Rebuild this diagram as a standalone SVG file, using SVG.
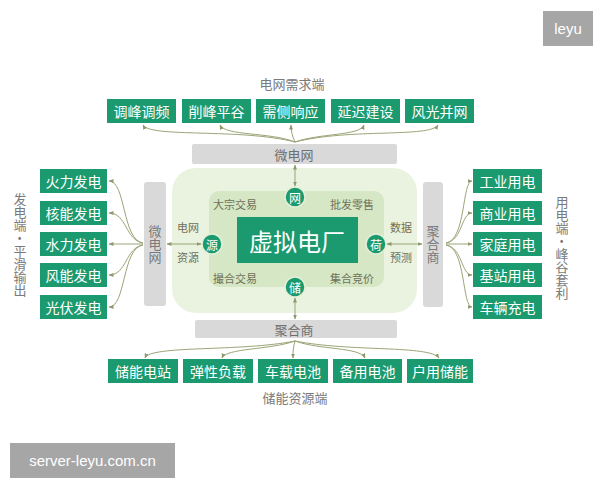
<svg xmlns="http://www.w3.org/2000/svg" width="600" height="480" viewBox="0 0 600 480">
<defs>
<marker id="ah" viewBox="0 0 10 10" refX="9" refY="5" markerWidth="5" markerHeight="5" orient="auto-start-reverse">
<path d="M0,1 L10,5 L0,9 z" fill="#8f9a6c"/>
</marker>
<style>
text{font-family:"Noto Sans CJK SC","Noto Sans",sans-serif;}
.box{fill:#1b9a70;}
.bt{fill:#ffffff;font-size:14px;text-anchor:middle;dominant-baseline:central;}
.bar{fill:#d9d9d9;}
.gt{fill:#6e6e6e;font-size:13px;text-anchor:middle;dominant-baseline:central;}
.lt{fill:#7a7a7a;font-size:13px;text-anchor:middle;dominant-baseline:central;}
.vt{fill:#7a7a7a;font-size:13px;text-anchor:middle;writing-mode:vertical-rl;}
.it{fill:#6f7058;font-size:11px;text-anchor:middle;dominant-baseline:central;}
.cir{fill:#1b9a70;stroke:#e3efd8;stroke-width:1.5;}
.ct{fill:#ffffff;font-size:12px;text-anchor:middle;dominant-baseline:central;}
.con{fill:none;stroke:#9aa578;stroke-width:1;}
</style>
</defs>
<rect width="600" height="480" fill="#ffffff"/>

<!-- core -->
<g id="vpp-area">
<rect x="172" y="168" width="245" height="145" rx="24" fill="#eaf3e0"/>
<rect x="209" y="191" width="175" height="96" rx="10" fill="#d5e7c4"/>
<text class="it" x="235" y="204">大宗交易</text>
<text class="it" x="352" y="204">批发零售</text>
<text class="it" x="235" y="278">撮合交易</text>
<text class="it" x="352" y="278">集合竞价</text>
<text class="it" x="188" y="227">电网</text>
<text class="it" x="188" y="257">资源</text>
<text class="it" x="401" y="227">数据</text>
<text class="it" x="401" y="257">预测</text>
</g>
<g id="vpp">
<rect class="box" x="237" y="217" width="121" height="46"/>
<text x="297" y="240" fill="#ffffff" font-size="24" text-anchor="middle" dominant-baseline="central">虚拟电厂</text>
</g>
<g id="n-wang"><circle class="cir" cx="295" cy="197" r="10"/><text class="ct" x="295" y="197">网</text></g>
<g id="n-chu"><circle class="cir" cx="295" cy="287" r="10"/><text class="ct" x="295" y="287">储</text></g>
<g id="n-yuan"><circle class="cir" cx="212" cy="244" r="10"/><text class="ct" x="212" y="244">源</text></g>
<g id="n-he"><circle class="cir" cx="376" cy="244" r="10"/><text class="ct" x="376" y="244">荷</text></g>

<!-- bars -->
<g id="bar-top"><rect class="bar" x="192" y="144" width="205" height="20" rx="2"/><text class="gt" x="294" y="154">微电网</text></g>
<g id="bar-bottom"><rect class="bar" x="195" y="320" width="202" height="18" rx="2"/><text class="gt" x="294" y="329">聚合商</text></g>
<g id="bar-left"><rect class="bar" x="144" y="182" width="22" height="124" rx="3"/>
<text class="vt" x="155" y="244">微电网</text></g>
<g id="bar-right"><rect class="bar" x="423" y="182" width="20" height="125" rx="3"/>
<text class="vt" x="433" y="244">聚合商</text></g>

<!-- top nodes -->
<text class="lt" x="292" y="83">电网需求端</text>
<g id="t1"><rect class="box" x="107" y="99" width="69" height="24"/><text class="bt" x="141.5" y="111">调峰调频</text></g>
<g id="t2"><rect class="box" x="182" y="99" width="69" height="24"/><text class="bt" x="216.5" y="111">削峰平谷</text></g>
<g id="t3"><rect class="box" x="256" y="99" width="69" height="24"/><text class="bt" x="290.5" y="111">需侧响应</text></g>
<g id="t4"><rect class="box" x="331" y="99" width="69" height="24"/><text class="bt" x="365.5" y="111">延迟建设</text></g>
<g id="t5"><rect class="box" x="405" y="99" width="69" height="24"/><text class="bt" x="439.5" y="111">风光并网</text></g>

<!-- bottom nodes -->
<g id="b1"><rect class="box" x="108" y="359" width="70" height="24"/><text class="bt" x="143" y="371">储能电站</text></g>
<g id="b2"><rect class="box" x="183" y="359" width="70" height="24"/><text class="bt" x="218" y="371">弹性负载</text></g>
<g id="b3"><rect class="box" x="258" y="359" width="70" height="24"/><text class="bt" x="293" y="371">车载电池</text></g>
<g id="b4"><rect class="box" x="333" y="359" width="69" height="24"/><text class="bt" x="367.5" y="371">备用电池</text></g>
<g id="b5"><rect class="box" x="407" y="359" width="66" height="24"/><text class="bt" x="440" y="371">户用储能</text></g>
<text class="lt" x="295" y="397">储能资源端</text>

<!-- left nodes -->
<g id="l1"><rect class="box" x="40" y="169" width="67" height="24"/><text class="bt" x="73.5" y="181">火力发电</text></g>
<g id="l2"><rect class="box" x="40" y="201" width="67" height="24"/><text class="bt" x="73.5" y="213">核能发电</text></g>
<g id="l3"><rect class="box" x="40" y="232" width="67" height="24"/><text class="bt" x="73.5" y="244">水力发电</text></g>
<g id="l4"><rect class="box" x="40" y="263" width="67" height="24"/><text class="bt" x="73.5" y="275">风能发电</text></g>
<g id="l5"><rect class="box" x="40" y="295" width="67" height="24"/><text class="bt" x="73.5" y="307">光伏发电</text></g>
<text class="vt" x="20" y="245">发电端·平滑输出</text>

<!-- right nodes -->
<g id="r1"><rect class="box" x="473" y="169" width="69" height="24"/><text class="bt" x="507.5" y="181">工业用电</text></g>
<g id="r2"><rect class="box" x="473" y="201" width="69" height="24"/><text class="bt" x="507.5" y="213">商业用电</text></g>
<g id="r3"><rect class="box" x="473" y="232" width="69" height="24"/><text class="bt" x="507.5" y="244">家庭用电</text></g>
<g id="r4"><rect class="box" x="473" y="263" width="69" height="24"/><text class="bt" x="507.5" y="275">基站用电</text></g>
<g id="r5"><rect class="box" x="473" y="295" width="69" height="24"/><text class="bt" x="507.5" y="307">车辆充电</text></g>
<text class="vt" x="562" y="248">用电端·峰谷套利</text>

<!-- connectors -->
<g id="connectors">
<path class="con" marker-end="url(#ah)" d="M295,142 C240,128 150,138 143,125"/>
<path class="con" marker-end="url(#ah)" d="M295,142 C270,132 225,136 220,125"/>
<path class="con" marker-end="url(#ah)" d="M295,142 C292,136 291,130 291,125"/>
<path class="con" marker-end="url(#ah)" d="M295,142 C320,133 360,136 364,125"/>
<path class="con" marker-end="url(#ah)" d="M295,142 C350,128 430,138 438,125"/>

<path class="con" marker-end="url(#ah)" d="M295,341 C240,352 150,345 145,358"/>
<path class="con" marker-end="url(#ah)" d="M295,341 C270,350 226,348 222,358"/>
<path class="con" marker-end="url(#ah)" d="M295,341 C293,348 293,352 293,358"/>
<path class="con" marker-end="url(#ah)" d="M295,341 C320,350 360,347 365,358"/>
<path class="con" marker-end="url(#ah)" d="M295,341 C350,352 430,345 439,358"/>

<path class="con" marker-end="url(#ah)" d="M143,243 C122,240 126,181 109,181"/>
<path class="con" marker-end="url(#ah)" d="M143,243 C125,240 127,213 109,213"/>
<path class="con" marker-end="url(#ah)" d="M143,244 L109,244"/>
<path class="con" marker-end="url(#ah)" d="M143,245 C125,248 127,275 109,275"/>
<path class="con" marker-end="url(#ah)" d="M143,245 C122,248 126,307 109,307"/>

<path class="con" marker-end="url(#ah)" d="M446,243 C466,240 462,181 472,181"/>
<path class="con" marker-end="url(#ah)" d="M446,243 C463,240 461,213 472,213"/>
<path class="con" marker-end="url(#ah)" d="M446,244 L472,244"/>
<path class="con" marker-end="url(#ah)" d="M446,245 C463,248 461,275 472,275"/>
<path class="con" marker-end="url(#ah)" d="M446,245 C466,248 462,307 472,307"/>

<path class="con" marker-start="url(#ah)" marker-end="url(#ah)" d="M295,165 L295,186"/>
<path class="con" marker-start="url(#ah)" marker-end="url(#ah)" d="M295,298 L295,319"/>
<path class="con" marker-start="url(#ah)" marker-end="url(#ah)" d="M167,244 L201,244"/>
<path class="con" marker-start="url(#ah)" marker-end="url(#ah)" d="M387,244 L422,244"/>
</g>

<!-- watermarks -->
<g id="wm1"><rect x="543" y="11" width="50" height="35" fill="#a6a6a6"/><text x="568" y="28.5" fill="#ffffff" font-size="15" text-anchor="middle" dominant-baseline="central" style="font-family:'Liberation Sans',sans-serif">leyu</text></g>
<g id="wm2"><rect x="10" y="443" width="165" height="35" fill="#a6a6a6"/><text x="92.5" y="460.5" fill="#ffffff" font-size="15" text-anchor="middle" dominant-baseline="central" style="font-family:'Liberation Sans',sans-serif">server-leyu.com.cn</text></g>
</svg>
